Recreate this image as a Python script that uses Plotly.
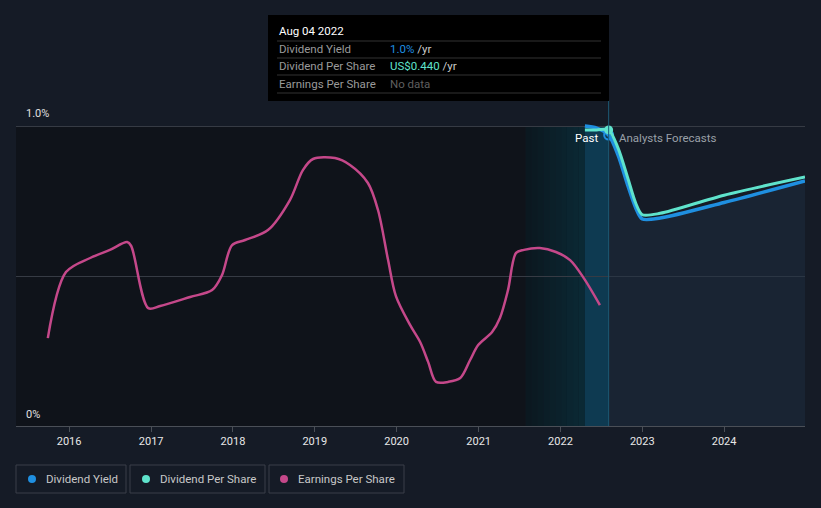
import plotly.graph_objects as go
import datetime as _dt

# ---------------- data ----------------
eps_dates = ["2015-09-28", "2015-12-18", "2016-04-04", "2016-07-01", "2016-09-16", "2016-10-04",
             "2016-12-19", "2017-02-10", "2017-06-24", "2017-09-30", "2017-11-13", "2017-12-28",
             "2018-02-24", "2018-06-06", "2018-09-12", "2018-11-09", "2018-12-24", "2019-04-01",
             "2019-06-07", "2019-08-26", "2019-10-10", "2019-11-24", "2019-12-29", "2020-03-01",
             "2020-04-15", "2020-05-21", "2020-06-25", "2020-08-18", "2020-10-11", "2020-11-24",
             "2020-12-30", "2021-03-02", "2021-04-06", "2021-05-12", "2021-06-17", "2021-07-22",
             "2021-10-01", "2021-12-12", "2022-02-13", "2022-04-15", "2022-06-26"]
eps_values = [0.293, 0.513, 0.560, 0.587, 0.613, 0.600,
              0.393, 0.400, 0.430, 0.453, 0.503, 0.603,
              0.620, 0.653, 0.753, 0.853, 0.890, 0.893,
              0.870, 0.810, 0.720, 0.553, 0.433, 0.337,
              0.280, 0.213, 0.147, 0.147, 0.160, 0.220,
              0.270, 0.313, 0.360, 0.453, 0.577, 0.587,
              0.593, 0.580, 0.553, 0.493, 0.403]

dy_dates = ["2022-04-20", "2022-06-12", "2022-08-04", "2022-09-15", "2022-10-28", "2022-12-03",
            "2023-01-01", "2023-03-22", "2024-01-01", "2024-12-27"]
dy_values = [1.0, 0.993, 0.97, 0.903, 0.803, 0.727, 0.69, 0.693, 0.745, 0.817]  # %

dps_dates = ["2022-04-20", "2022-06-12", "2022-08-04", "2022-09-15", "2022-10-28", "2022-12-03",
             "2023-01-01", "2023-03-22", "2024-01-01", "2024-12-27"]
dps_values = [0.44, 0.44, 0.44, 0.413, 0.369, 0.331, 0.314, 0.316, 0.343, 0.370]  # US$

year_ticks = ["2016-01-01", "2017-01-01", "2018-01-01", "2019-01-01", "2020-01-01",
              "2021-01-01", "2022-01-01", "2023-01-01", "2024-01-01"]
year_labels = ["2016", "2017", "2018", "2019", "2020", "2021", "2022", "2023", "2024"]

x_range = ["2015-05-09", "2024-12-27"]
past_start = "2021-07-30"
band_start = "2022-04-20"
today = "2022-08-04"

# ---------------- geometry helpers ----------------
W, H = 821, 508
L, R, T, B = 16, 16, 111, 82
PW, PH = W - L - R, H - T - B


def px(x):
    return (x - L) / PW


def py(y):
    return (H - B - y) / PH


BG = "#151b26"

fig = go.Figure()

# forecast fill
fc_idx = dy_dates.index(today)
fig.add_trace(go.Scatter(x=dy_dates[fc_idx:], y=dy_values[fc_idx:], mode="lines",
                         line=dict(width=0, shape="spline"), fill="tozeroy",
                         fillcolor="rgba(30,48,68,0.45)", hoverinfo="skip", showlegend=False))

# EPS
fig.add_trace(go.Scatter(x=eps_dates, y=eps_values, mode="lines", yaxis="y2",
                         line=dict(color="#c5488a", width=2.5, shape="spline", smoothing=0.9),
                         name="Earnings Per Share", showlegend=False))

# Dividend yield
fig.add_trace(go.Scatter(x=dy_dates, y=dy_values, mode="lines",
                         line=dict(color="#1f8fe0", width=3.5, shape="spline", smoothing=0.8),
                         name="Dividend Yield", showlegend=False))

# Dividend per share
fig.add_trace(go.Scatter(x=dps_dates, y=dps_values, mode="lines", yaxis="y3",
                         line=dict(color="#5fe3cc", width=3, shape="spline", smoothing=0.8),
                         name="Dividend Per Share", showlegend=False))

# markers at today
fig.add_trace(go.Scatter(x=[today], y=[dy_values[fc_idx]], mode="markers",
                         marker=dict(size=9, color="rgba(0,0,0,0)", line=dict(color="#1f8fe0", width=2)),
                         showlegend=False, hoverinfo="skip"))
fig.add_trace(go.Scatter(x=[today], y=[dps_values[fc_idx]], mode="markers", yaxis="y3",
                         marker=dict(size=9, color="#5fe3cc"), showlegend=False, hoverinfo="skip"))

shapes = []
# past dark region
shapes.append(dict(type="rect", xref="x", yref="y", x0=x_range[0], x1=past_start, y0=0, y1=1.0,
                   fillcolor="#0f131a", line=dict(width=0), layer="below"))
# gradient region
d0 = _dt.date.fromisoformat(past_start)
d1 = _dt.date.fromisoformat(band_start)
n = 10
c0 = (11, 24, 31)
c1 = (12, 42, 54)
for i in range(n):
    a = d0 + (d1 - d0) * i / n
    b = d0 + (d1 - d0) * (i + 1) / n
    t = (i + 0.5) / n
    c = tuple(int(c0[k] + (c1[k] - c0[k]) * t) for k in range(3))
    shapes.append(dict(type="rect", xref="x", yref="y", x0=a.isoformat(), x1=b.isoformat(), y0=0, y1=1.0,
                       fillcolor="rgb(%d,%d,%d)" % c, line=dict(width=0), layer="below"))
# band
shapes.append(dict(type="rect", xref="x", yref="y", x0=band_start, x1=today, y0=0, y1=1.0,
                   fillcolor="#0e3a51", line=dict(width=0), layer="below"))
# today line
shapes.append(dict(type="line", xref="x", yref="paper", x0=today, x1=today, y0=0, y1=py(100),
                   line=dict(color="#1d5a75", width=1)))

# tooltip
shapes.append(dict(type="rect", xref="paper", yref="paper", x0=px(268), x1=px(609), y0=py(101), y1=py(15),
                   fillcolor="#000000", line=dict(width=0)))
for yy in [41, 58, 75, 93]:
    shapes.append(dict(type="line", xref="paper", yref="paper", x0=px(277), x1=px(601), y0=py(yy), y1=py(yy),
                       line=dict(color="#333333", width=1)))

# legend boxes
for x0, x1 in [(16, 126), (130, 265), (269, 404)]:
    shapes.append(dict(type="rect", xref="paper", yref="paper", x0=px(x0), x1=px(x1), y0=py(493), y1=py(465),
                       line=dict(color="#3a3f48", width=1), fillcolor="rgba(0,0,0,0)"))

FONT = "Roboto"
ann = []


def text(x, y, s, color, size=11, anchor="left"):
    ann.append(dict(xref="paper", yref="paper", x=px(x), y=py(y), text=s, showarrow=False,
                    xanchor=anchor, yanchor="middle", font=dict(family=FONT, size=size, color=color)))


text(24, 114, "1.0%", "#e0e0e0")
text(24, 414, "0%", "#e0e0e0")
text(277, 31, "Aug 04 2022", "#ffffff", 11.5)
text(277, 49, "Dividend Yield", "#9a9a9a", 11.5)
text(277, 66, "Dividend Per Share", "#9a9a9a", 11.5)
text(277, 84, "Earnings Per Share", "#9a9a9a", 11.5)
text(388, 49, "<span style='color:#1f8fe0'>1.0%</span> /yr", "#cccccc", 11.5)
text(388, 66, "<span style='color:#5fe3cc'>US$0.440</span> /yr", "#cccccc", 11.5)
text(388, 84, "No data", "#5f5f5f", 11.5)
text(600, 138, "Past", "#ffffff", 11.5, "right")
text(617, 138, "Analysts Forecasts", "#9aa0a8", 11.5)

for cx, lbl, col, tx in [(32, "Dividend Yield", "#1f8fe0", 44), (146, "Dividend Per Share", "#5fe3cc", 158),
                         (284, "Earnings Per Share", "#c5488a", 296)]:
    shapes.append(dict(type="circle", xref="paper", yref="paper", x0=px(cx - 4), x1=px(cx + 4),
                       y0=py(483), y1=py(475), fillcolor=col, line=dict(width=0)))
    text(tx, 479, lbl, "#c8c8c8", 11.5)

fig.update_layout(
    width=W, height=H,
    margin=dict(l=L, r=R, t=T, b=B),
    paper_bgcolor=BG, plot_bgcolor=BG,
    showlegend=False,
    font=dict(family=FONT, color="#e0e0e0"),
    xaxis=dict(type="date", range=x_range, tickvals=year_ticks, ticktext=year_labels,
               showgrid=False, zeroline=False, showline=True, linecolor="#4a4f57", linewidth=1,
               ticks="outside", ticklen=5, tickcolor="#4a4f57", tickfont=dict(size=11, color="#e8e8e8")),
    yaxis=dict(range=[0, 1.05], tickvals=[0, 0.5, 1.0], showticklabels=False, showgrid=True,
               gridcolor="#363b44", gridwidth=1, zeroline=False, fixedrange=True),
    yaxis2=dict(range=[0, 1.05], overlaying="y", visible=False),
    yaxis3=dict(range=[0, 0.4681], overlaying="y", visible=False),
    shapes=shapes,
    annotations=ann,
)

fig.write_html("out.html")
